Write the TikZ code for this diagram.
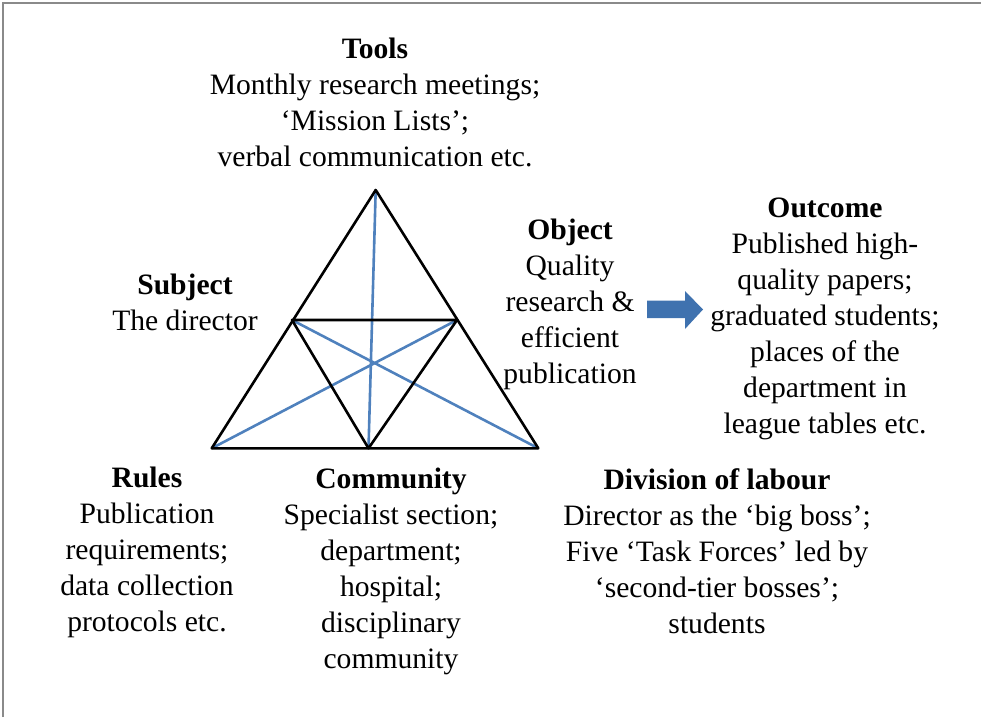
\documentclass[tikz,border=0pt]{standalone}
\usepackage{fontspec}
\setmainfont{Liberation Serif}
\definecolor{lineblue}{HTML}{4F81BD}
\definecolor{arrowblue}{HTML}{3F72AF}
\definecolor{framegray}{HTML}{8A8A8A}
\begin{document}
\begin{tikzpicture}[x=1pt,y=-1pt,
  txt/.style={anchor=base,align=center,inner sep=0pt,font=\fontsize{29.6}{36}\selectfont},
  blk/.style={line width=2.6pt,black,line join=round},
  blu/.style={line width=2.6pt,lineblue}]
\useasboundingbox (0,0) rectangle (981,717);
% frame
\draw[framegray,line width=1.4pt] (3,717) -- (3,3) -- (981,3);
% triangle vertices
\coordinate (A) at (375.7,190);
\coordinate (L) at (211.7,448.3);
\coordinate (R) at (538.3,448.3);
\coordinate (ML) at (292,320);
\coordinate (MR) at (457,320);
\coordinate (MB) at (368.5,448.3);
% blue lines
\draw[blu] (A) -- (MB);
\draw[blu] (ML) -- (R);
\draw[blu] (MR) -- (L);
% black lines
\draw[blk] (A) -- (L) -- (R) -- cycle;
\draw[blk] (ML) -- (MR) -- (MB) -- cycle;
% arrow
\fill[arrowblue] (647,300.7) -- (685,300.7) -- (685,291) -- (703,309.5) -- (685,329) -- (685,318) -- (647,318) -- cycle;
% texts (anchor=base is the baseline of the last line)
\node[txt] (tools) at (375,166.5) {\textbf{Tools}\\Monthly research meetings;\\‘Mission Lists’;\\verbal communication etc.};
\node[txt] (subject) at (185,330) {\textbf{Subject}\\The director};
\node[txt] (object) at (570,383.3) {\textbf{Object}\\Quality\\research \&\\efficient\\publication};
\node[txt] (outcome) at (825,433.3) {\textbf{Outcome}\\Published high-\\quality papers;\\graduated students;\\places of the\\department in\\league tables etc.};
\node[txt] (rules) at (147,631.7) {\textbf{Rules}\\Publication\\requirements;\\data collection\\protocols etc.};
\node[txt] (community) at (391,668.3) {\textbf{Community}\\Specialist section;\\department;\\hospital;\\disciplinary\\community};
\node[txt] (division) at (717,633.3) {\textbf{Division of labour}\\Director as the ‘big boss’;\\Five ‘Task Forces’ led by\\‘second-tier bosses’;\\students};
\end{tikzpicture}
\end{document}
